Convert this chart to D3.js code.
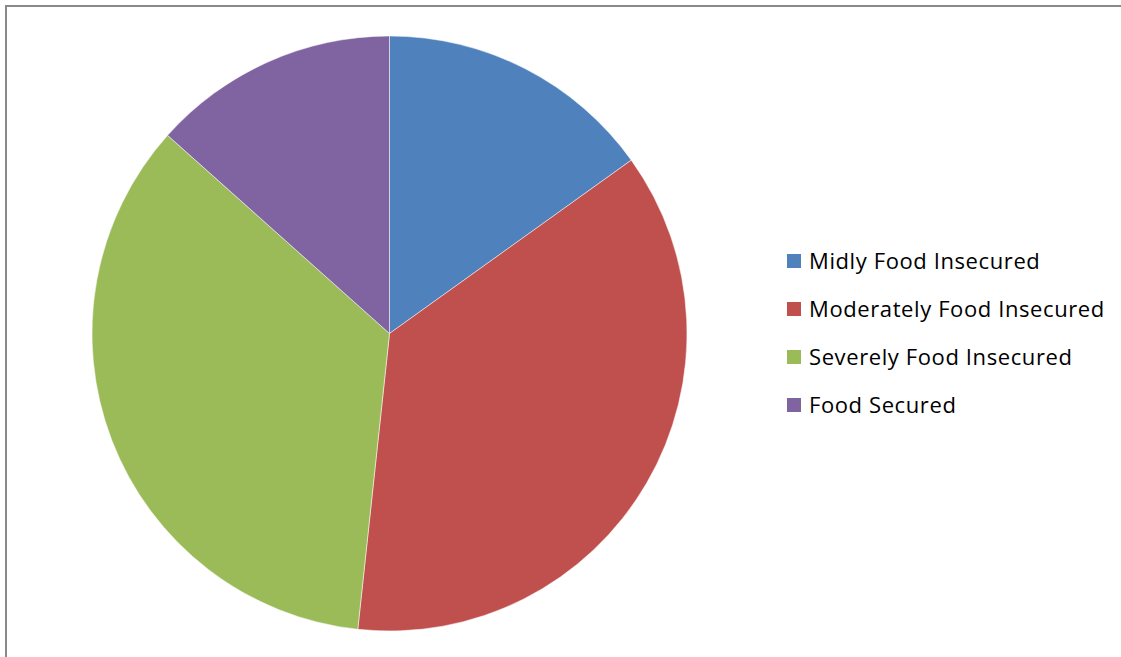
<!DOCTYPE html>
<html>
<head>
<meta charset="utf-8">
<script src="https://cdn.jsdelivr.net/npm/d3@7"></script>
<style>
  body { margin: 0; background: #fff; }
  text { font-family: "Open Sans", "Noto Sans", sans-serif; }
</style>
</head>
<body>
<div id="chart"></div>
<script>
// data (share of respondents, %)
var categories = ["Midly Food Insecured", "Moderately Food Insecured", "Severely Food Insecured", "Food Secured"];
var values = [15.1, 36.6, 34.9, 13.4];
var colors = ["#4F81BD", "#C0504D", "#9BBB59", "#8064A2"];

var width = 1121, height = 657;
var cx = 389.5, cy = 333.5, radius = 297.5;

var svg = d3.select("#chart")
  .append("svg")
  .attr("width", width)
  .attr("height", height);

// chart area border
svg.append("rect")
  .attr("x", 6)
  .attr("y", 6)
  .attr("width", width)
  .attr("height", height)
  .attr("fill", "none")
  .attr("stroke", "#898989")
  .attr("stroke-width", 2);

var data = categories.map((c, i) => ({ name: c, value: values[i] }));

var pie = d3.pie()
  .value(d => d.value)
  .sort(null);

var arc = d3.arc()
  .innerRadius(0)
  .outerRadius(radius);

var color = d3.scaleOrdinal()
  .domain(categories)
  .range(colors);

var g = svg.append("g")
  .attr("transform", "translate(" + cx + "," + cy + ")");

g.selectAll("path")
  .data(pie(data))
  .enter().append("path")
  .attr("d", arc)
  .attr("fill", d => color(d.data.name))
  .attr("stroke", "#fff")
  .attr("stroke-width", 0.5);

// legend
var legend = svg.selectAll(".legend")
  .data(categories)
  .enter().append("g")
  .attr("class", "legend")
  .attr("transform", (d, i) => "translate(787," + (254 + i * 48) + ")");

legend.append("rect")
  .attr("width", 14)
  .attr("height", 14)
  .attr("fill", d => color(d));

legend.append("text")
  .attr("x", 22)
  .attr("y", 15)
  .attr("font-size", "22px")
  .attr("letter-spacing", "0.6px")
  .attr("fill", "#000")
  .text(d => d);
</script>
</body>
</html>
